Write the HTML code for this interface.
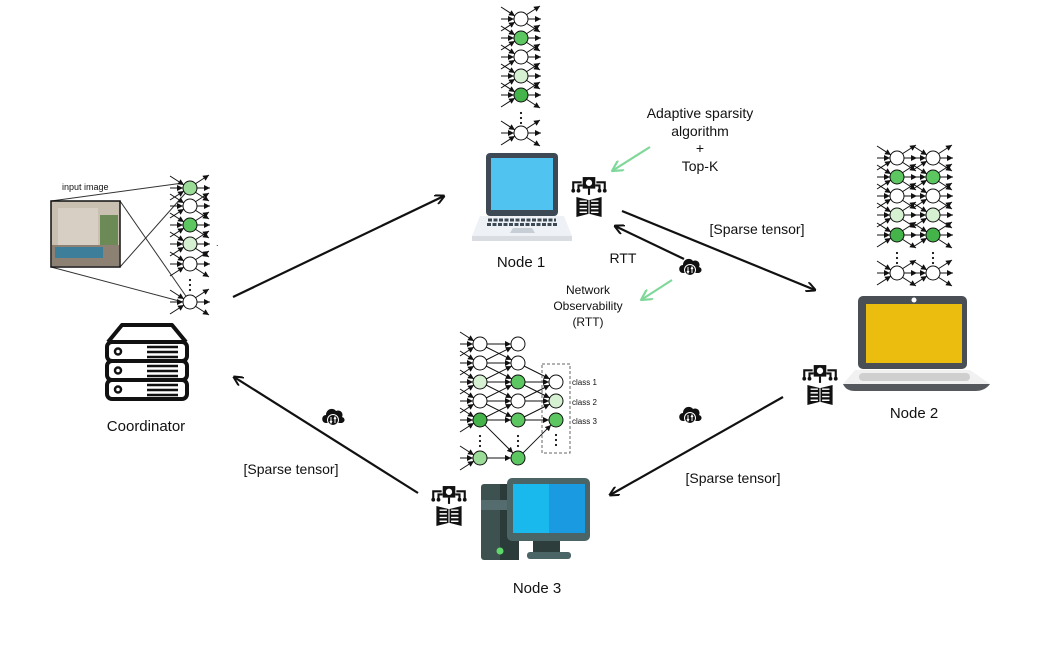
<!DOCTYPE html>
<html><head><meta charset="utf-8"><style>
html,body{margin:0;padding:0;background:#fff;}
svg{display:block;}
text{font-family:"Liberation Sans",sans-serif;fill:#111;}
</style></head><body>
<svg id="s" width="1043" height="655" viewBox="0 0 1043 655" xmlns="http://www.w3.org/2000/svg">
<defs>
<marker id="ah" markerWidth="10" markerHeight="10" refX="9" refY="5" orient="auto" markerUnits="userSpaceOnUse">
<path d="M0,0 L10,5 L0,10" fill="none" stroke="#111" stroke-width="2"/></marker>
<marker id="sa" markerWidth="6" markerHeight="6" refX="6" refY="3" orient="auto" markerUnits="userSpaceOnUse">
<path d="M0,0 L6,3 L0,6 z" fill="#111"/></marker>
<marker id="ga" markerWidth="12" markerHeight="12" refX="11" refY="6" orient="auto" markerUnits="userSpaceOnUse">
<path d="M0,0 L11,6 L0,12" fill="none" stroke="#7fd89a" stroke-width="2.2"/></marker>
<symbol id="book" viewBox="0 0 38 40">
<path d="M4,14 V6 H12 M34,14 V6 H26 M9,14 V9 H13 M29,14 V9 H25" fill="none" stroke="#111" stroke-width="2"/>
<circle cx="4" cy="14" r="1.8" fill="#111"/><circle cx="34" cy="14" r="1.8" fill="#111"/>
<circle cx="9" cy="14" r="1.8" fill="#111"/><circle cx="29" cy="14" r="1.8" fill="#111"/>
<rect x="13" y="1" width="12" height="11" fill="#111"/><circle cx="19" cy="6.5" r="3" fill="#fff"/>
<path d="M19,12 V18" stroke="#111" stroke-width="2"/>
<path d="M7,20 L19,23 L31,20 V39 L19,36 L7,39 z" fill="#111"/>
<path d="M10,24 H17 M10,27.5 H17 M10,31 H17 M10,34.5 H17 M21,24 H28 M21,27.5 H28 M21,31 H28 M21,34.5 H28" stroke="#fff" stroke-width="1.4"/>
<path d="M19,23 V36" stroke="#fff" stroke-width="1"/>
</symbol>
<symbol id="cloud" viewBox="0 0 24 22">
<path d="M5,17 C0,17 0,9 5,9 C5,3 12,1 15,5 C19,3 23,7 21,11 C25,12 24,17 20,17 z" fill="#111"/>
<circle cx="12" cy="14" r="5.5" fill="#111" stroke="#fff" stroke-width="1"/>
<path d="M10,11 V17 M14,11 V17 M9,15 L10,17 L11,15 M13,13 L14,11 L15,13" stroke="#fff" stroke-width="1" fill="none"/>
</symbol>
</defs>

<g stroke="#111" stroke-width="2.2" fill="none" marker-end="url(#ah)">
<line x1="233" y1="297" x2="444" y2="196"/>
<line x1="622" y1="211" x2="815" y2="290"/>
<line x1="783" y1="397" x2="610" y2="495"/>
<line x1="418" y1="493" x2="234" y2="377"/>
<line x1="684" y1="259" x2="615" y2="226"/>
</g>
<g stroke="#7fd89a" stroke-width="2.2" fill="none" marker-end="url(#ga)">
<line x1="650" y1="147" x2="612" y2="171"/>
<line x1="672" y1="280" x2="641" y2="300"/>
</g>

<g stroke="#333" stroke-width="1" fill="none">
<line x1="51" y1="201" x2="183" y2="183"/>
<line x1="51" y1="267" x2="183" y2="302"/>
<line x1="120" y1="201" x2="190" y2="302"/>
<line x1="120" y1="267" x2="190" y2="188"/>
</g>
<rect x="51" y="201" width="69" height="66" fill="#c9c0b2" stroke="#111" stroke-width="1.5"/>
<rect x="58" y="208" width="40" height="38" fill="#d8cfc4"/>
<rect x="52" y="245" width="67" height="21" fill="#8d8173"/>
<rect x="55" y="247" width="48" height="11" fill="#3d7f9a"/>
<rect x="100" y="215" width="18" height="30" fill="#6c8a55"/>
<text x="62" y="190" font-size="9">input image</text>

<g id="nets"></g>

<rect x="542" y="364" width="28" height="89" fill="none" stroke="#666" stroke-width="1" stroke-dasharray="3,2"/>
<text x="572" y="385" font-size="8">class 1</text>
<text x="572" y="405" font-size="8">class 2</text>
<text x="572" y="424" font-size="8">class 3</text>
<text x="216" y="246" font-size="9">.</text>

<g fill="none" stroke="#111" stroke-width="4" stroke-linejoin="round">
<path d="M108,342 L122,325 H172 L186,342"/>
<rect x="107" y="342" width="80" height="19" rx="5"/>
<rect x="107" y="361" width="80" height="19" rx="5"/>
<rect x="107" y="380" width="80" height="19" rx="5"/>
</g>
<g fill="none" stroke="#111" stroke-width="2.5">
<circle cx="118" cy="351.5" r="3"/><circle cx="118" cy="370.5" r="3"/><circle cx="118" cy="389.5" r="3"/>
<path d="M147,347 H178 M147,352 H178 M147,357 H178 M147,366 H178 M147,371 H178 M147,376 H178 M147,385 H178 M147,390 H178 M147,395 H178"/>
</g>
<text x="146" y="431" font-size="15" text-anchor="middle">Coordinator</text>

<!-- node1 laptop -->
<rect x="486" y="153" width="72" height="63" rx="4" fill="#3d4a56"/>
<rect x="491" y="158" width="62" height="52" fill="#51c3f0"/>
<path d="M480,216 H564 L572,236 H472 z" fill="#eef1f5"/>
<rect x="472" y="236" width="100" height="5" fill="#d9dde2"/>
<g stroke="#3d4a56" stroke-width="3" stroke-dasharray="4,1.5">
<line x1="488" y1="220" x2="556" y2="220"/><line x1="487" y1="224.5" x2="557" y2="224.5"/>
</g>
<path d="M513,228 H532 L535,233 H510 z" fill="#c7ced6"/>
<text x="521" y="267" font-size="15" text-anchor="middle">Node 1</text>

<!-- node2 laptop -->
<rect x="858" y="296" width="109" height="73" rx="5" fill="#4a4f55"/>
<circle cx="914" cy="300" r="2.5" fill="#fff"/>
<rect x="866" y="304" width="96" height="59" fill="#ebbd0f"/>
<path d="M855,370 H970 L990,384 H843 z" fill="#f1f1f1"/>
<rect x="859" y="373" width="111" height="8" rx="4" fill="#cfcfcf"/>
<path d="M843,384 H990 Q985,391 975,391 H855 Q846,391 843,384 z" fill="#55585c"/>
<text x="914" y="418" font-size="15" text-anchor="middle">Node 2</text>

<!-- node3 PC -->
<rect x="481" y="484" width="38" height="76" rx="3" fill="#3d5250"/>
<rect x="500" y="484" width="19" height="76" fill="#2b3b3a"/>
<rect x="481" y="500" width="38" height="10" fill="#546c6d"/>
<circle cx="500" cy="551" r="3.5" fill="#5fd86a"/>
<rect x="533" y="540" width="27" height="13" fill="#2d3d3c"/>
<rect x="527" y="552" width="44" height="7" rx="3" fill="#4b6466"/>
<rect x="507" y="478" width="83" height="63" rx="5" fill="#4b6466"/>
<rect x="513" y="484" width="36" height="49" fill="#1ab9ed"/>
<rect x="549" y="484" width="36" height="49" fill="#1a9ae0"/>
<text x="537" y="593" font-size="15" text-anchor="middle">Node 3</text>

<use href="#book" x="569" y="176" width="40" height="42"/>
<use href="#book" x="429" y="485" width="40" height="42"/>
<use href="#book" x="800" y="364" width="40" height="42"/>
<use href="#cloud" x="678" y="256" width="24" height="22"/>
<use href="#cloud" x="321" y="406" width="24" height="22"/>
<use href="#cloud" x="678" y="404" width="24" height="22"/>

<g font-size="14" text-anchor="middle">
<text x="700" y="118">Adaptive sparsity</text>
<text x="700" y="136">algorithm</text>
<text x="700" y="153">+</text>
<text x="700" y="171">Top-K</text>
<text x="757" y="234">[Sparse tensor]</text>
<text x="623" y="263">RTT</text>
<text x="291" y="474">[Sparse tensor]</text>
<text x="733" y="483">[Sparse tensor]</text>
</g>
<g font-size="12" text-anchor="middle">
<text x="588" y="294">Network</text>
<text x="588" y="310">Observability</text>
<text x="588" y="326">(RTT)</text>
</g>
</svg>
<script>
var NS="http://www.w3.org/2000/svg",g=document.getElementById("nets");
function el(t,a){var e=document.createElementNS(NS,t);for(var k in a)e.setAttribute(k,a[k]);g.appendChild(e);return e;}
var W="#fff",G="#5cc760",D="#44b44a",P="#d6f0d2",L="#9bdc98";
function col(x,ys,cs,dy,opts){opts=opts||{};
 ys.forEach(function(y,i){
  if(!opts.noIn){
   el("line",{x1:x-20,y1:y,x2:x-7,y2:y,stroke:"#111","stroke-width":1,"marker-end":"url(#sa)"});
   el("line",{x1:x-20,y1:y-12,x2:x-6,y2:y-3,stroke:"#111","stroke-width":1,"marker-end":"url(#sa)"});
   el("line",{x1:x-20,y1:y+12,x2:x-6,y2:y+3,stroke:"#111","stroke-width":1,"marker-end":"url(#sa)"});
  }
  if(!opts.noOut){
   el("line",{x1:x+7,y1:y,x2:x+20,y2:y,stroke:"#111","stroke-width":1,"marker-end":"url(#sa)"});
   el("line",{x1:x+5,y1:y-4,x2:x+19,y2:y-13,stroke:"#111","stroke-width":1,"marker-end":"url(#sa)"});
   el("line",{x1:x+5,y1:y+4,x2:x+19,y2:y+13,stroke:"#111","stroke-width":1,"marker-end":"url(#sa)"});
  }
  el("circle",{cx:x,cy:y,r:7,fill:cs[i],stroke:"#111","stroke-width":1});
 });
 for(var k=0;k<3;k++)el("circle",{cx:x,cy:dy+k*5,r:1.1,fill:"#111"});
}
col(190,[188,206,225,244,264,302],[L,W,G,P,W,W],280);
col(521,[19,38,57,76,95,133],[W,G,W,P,D,W],113);
col(897,[158,177,196,215,235,273],[W,G,W,P,D,W],253);
col(933,[158,177,196,215,235,273],[W,G,W,P,D,W],253);
col(480,[344,363,382,401,420,458],[W,W,P,W,D,L],436,{noOut:true});
col(518,[344,363,382,401,420,458],[W,W,G,W,G,G],436,{noIn:true,noOut:true});
col(556,[382,401,420],[W,P,G],435,{noIn:true,noOut:true});
function ln(x1,y1,x2,y2){var dx=x2-x1,dy=y2-y1,l=Math.sqrt(dx*dx+dy*dy);
 el("line",{x1:x1+dx/l*7,y1:y1+dy/l*7,x2:x2-dx/l*7,y2:y2-dy/l*7,stroke:"#111","stroke-width":1,"marker-end":"url(#sa)"});}
var a=[344,363,382,401,420];
for(var i=0;i<5;i++){ln(480,a[i],518,a[i]); if(i<4)ln(480,a[i],518,a[i+1]); if(i>0)ln(480,a[i],518,a[i-1]);}
ln(480,458,518,458);ln(480,420,518,458);
ln(518,363,556,382);ln(518,382,556,382);ln(518,382,556,401);ln(518,401,556,401);ln(518,401,556,382);
ln(518,420,556,420);ln(518,420,556,401);ln(518,458,556,420);
</script>
</body></html>
